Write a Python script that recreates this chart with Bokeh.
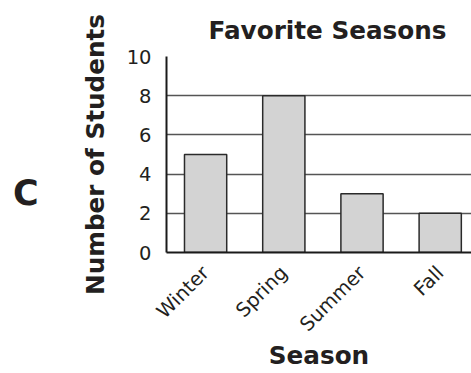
import math
from bokeh.plotting import figure
from bokeh.layouts import row
from bokeh.models import (ColumnDataSource, Range1d, FixedTicker, Grid, Title, Div)
from bokeh.embed import file_html
from bokeh.resources import INLINE

# ---- data ----
seasons = ["Winter", "Spring", "Summer", "Fall"]
students = [5, 8, 3, 2]
y_ticks = [0, 2, 4, 6, 8, 10]
title_text = "Favorite Seasons"
x_title = "Season"
y_title = "Number of Students"
panel_letter = "C"

FONT = "DejaVu Sans"
TXT = "#231f20"
BIG = "24.7px"
SMALL = "19.5px"

positions = [i + 0.5 for i in range(len(seasons))]
src = ColumnDataSource(dict(x=positions, top=students, name=seasons))

p = figure(width=411, height=373, output_backend="svg", toolbar_location=None,
           x_range=Range1d(0, 3.9), y_range=Range1d(y_ticks[0], y_ticks[-1]),
           min_border_left=106, min_border_right=0, min_border_top=56,
           min_border_bottom=121, margin=0)
p.outline_line_color = None
p.background_fill_color = "white"
p.border_fill_color = "white"

p.title = Title(text=title_text, text_font=FONT, text_font_size=BIG,
                text_font_style="bold", text_color=TXT, align="left",
                offset=42, standoff=23)

p.vbar(x="x", top="top", bottom=0, width=0.54, source=src,
       fill_color="#d3d3d3", line_color="#2a2a2a", line_width=1.5)

# grid
p.xgrid.visible = False
p.ygrid.visible = False
p.add_layout(Grid(dimension=1, ticker=FixedTicker(ticks=y_ticks[1:-1]),
                  grid_line_color="#555555", grid_line_width=1.5), "center")
p.add_layout(Grid(dimension=1, ticker=FixedTicker(ticks=[y_ticks[-1]]),
                  grid_line_color="#222222", grid_line_width=2), "center")

# axes
xa = p.xaxis[0]
xa.ticker = FixedTicker(ticks=positions)
xa.major_label_overrides = {pos: s for pos, s in zip(positions, seasons)}
xa.major_label_orientation = math.pi / 4
xa.major_tick_line_color = None
xa.minor_tick_line_color = None
xa.axis_line_color = "#1a1a1a"
xa.axis_line_width = 2
xa.major_label_text_font = FONT
xa.major_label_text_font_size = SMALL
xa.major_label_text_color = TXT
xa.major_label_standoff = 11
xa.axis_label = x_title
xa.axis_label_text_font = FONT
xa.axis_label_text_font_size = BIG
xa.axis_label_text_font_style = "bold"
xa.axis_label_text_color = TXT
xa.axis_label_standoff = -6

ya = p.yaxis[0]
ya.ticker = FixedTicker(ticks=y_ticks)
ya.major_tick_line_color = None
ya.minor_tick_line_color = None
ya.axis_line_color = "#1a1a1a"
ya.axis_line_width = 2
ya.major_label_text_font = FONT
ya.major_label_text_font_size = SMALL
ya.major_label_text_color = TXT
ya.major_label_standoff = 9
ya.axis_label = y_title
ya.axis_label_text_font = FONT
ya.axis_label_text_font_size = BIG
ya.axis_label_text_font_style = "bold"
ya.axis_label_text_color = TXT
ya.axis_label_standoff = 14

letter = Div(
    text=('<div style="padding-top:176px; padding-left:13px; '
          "font-family:'DejaVu Sans'; font-size:35px; font-weight:bold; "
          f'line-height:1; color:{TXT}">{panel_letter}</div>'),
    width=60, height=373, margin=0)

layout = row(letter, p, spacing=0, margin=0)

open("out.html", "w").write(file_html(layout, INLINE))
